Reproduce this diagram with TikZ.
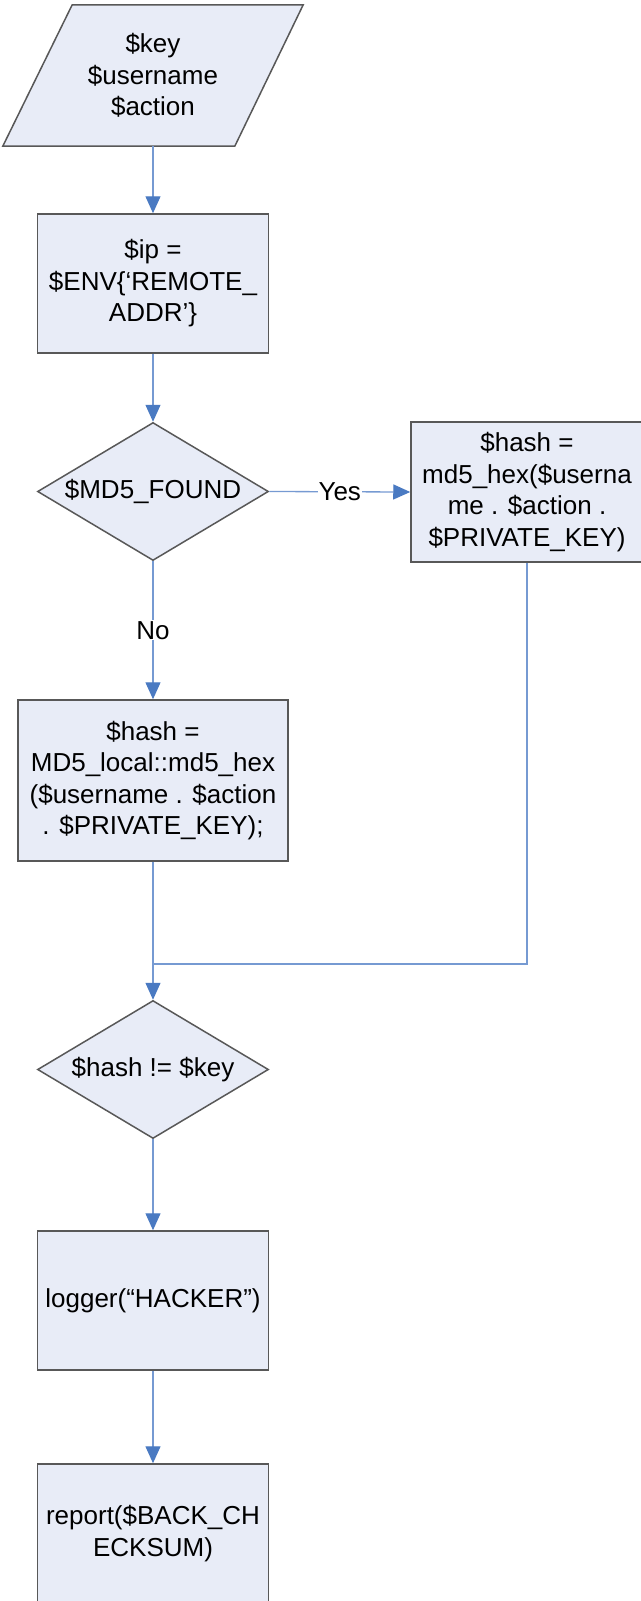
\documentclass[tikz,border=0pt]{standalone}
\usepackage{fontspec}
\setmainfont{Liberation Sans}
\usetikzlibrary{shapes.geometric,arrows.meta}

\definecolor{boxfill}{RGB}{232,236,247}
\definecolor{boxline}{RGB}{88,88,88}
\definecolor{flowline}{RGB}{118,154,210}
\definecolor{flowhead}{RGB}{74,122,194}

\tikzset{
  txt/.style={font=\fontsize{26}{31.5}\selectfont, align=center},
  procbox/.style={txt, rectangle, draw=boxline, fill=boxfill, line width=1.5pt,
    inner sep=0pt, minimum width=231pt, minimum height=139pt},
  decision/.style={txt, diamond, aspect=1.67, draw=boxline, fill=boxfill,
    line width=1.5pt, inner sep=0pt, minimum width=231pt, minimum height=138pt},
  link/.style={draw=flowline, line width=1.3pt},
  arrowlink/.style={link, -{Triangle[length=17pt,width=15pt,color=flowhead]}},
  lbl/.style={txt, fill=white, inner sep=1pt},
}

\begin{document}
\begin{tikzpicture}[x=1pt,y=-1pt]
  \useasboundingbox (0,0) rectangle (640,1601);

  % input parallelogram: the node spans its bounding box, the outline is drawn from its corners
  \node[txt, minimum width=300pt, minimum height=141pt, inner sep=0pt] (in) at (153,75.5) {};
  \filldraw[draw=boxline, fill=boxfill, line width=1.5pt]
    (in.south west) -- ++(232,0) -- (in.north east) -- ++(-231,0) -- cycle;
  \node[txt] at (in.center) {\$key\\\$username\\\$action};

  \node[procbox] (ip) at (153,283.5) {\$ip =\\\$ENV\{‘REMOTE\_\\ADDR’\}};
  \node[decision] (found) at (153,491.5) {\$MD5\_FOUND};
  \node[procbox, minimum width=232pt, minimum height=140pt] (hashyes) at (527,492)
    {\$hash =\\md5\_hex(\$userna\\me . \$action .\\\$PRIVATE\_KEY)};
  \node[procbox, minimum width=270pt, minimum height=161pt] (hashno) at (153,780.5)
    {\$hash =\\MD5\_local::md5\_hex\\(\$username . \$action\\. \$PRIVATE\_KEY);};
  \coordinate (join) at (153,964);
  \node[decision] (check) at (153,1069.5) {\$hash != \$key};
  \node[procbox] (logger) at (153,1300.5) {logger(“HACKER”)};
  \node[procbox] (report) at (153,1533.5) {report(\$BACK\_CH\\ECKSUM)};

  % connectors
  \draw[arrowlink] (in.south) -- (ip.north);
  \draw[arrowlink] (ip.south) -- (found.north);
  \draw[arrowlink] (found.east) -- node[lbl] {Yes} (hashyes.west);
  \draw[arrowlink] (found.south) -- node[lbl] {No} (hashno.north);
  \draw[link] (hashyes.south) |- (join);
  \draw[arrowlink] (hashno.south) -- (check.north);
  \draw[arrowlink] (check.south) -- (logger.north);
  \draw[arrowlink] (logger.south) -- (report.north);
\end{tikzpicture}
\end{document}
